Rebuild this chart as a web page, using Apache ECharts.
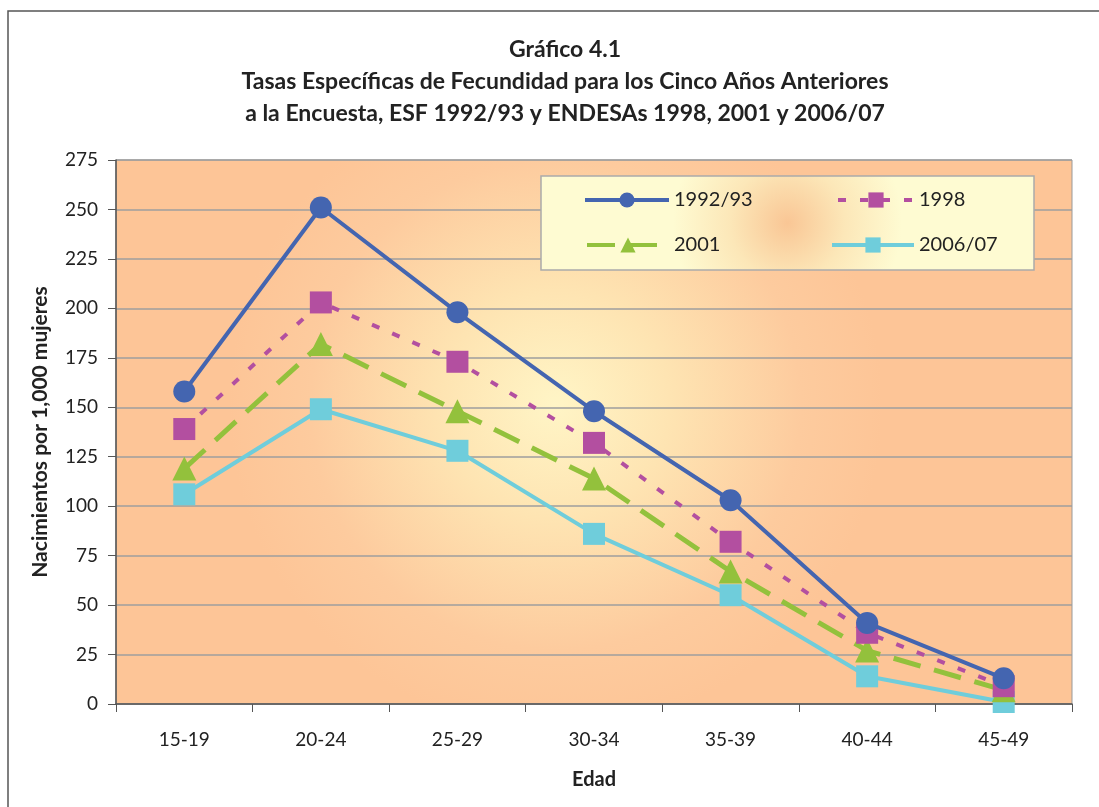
<!DOCTYPE html>
<html><head><meta charset="utf-8">
<script src="https://cdn.jsdelivr.net/npm/echarts@6/dist/echarts.min.js"></script>
<style>html,body{margin:0;padding:0;background:#fff}#c{width:1099px;height:807px}</style>
</head><body><div id="c"></div>
<script>
const categories = ['15-19','20-24','25-29','30-34','35-39','40-44','45-49'];
const s1992 = [158, 251, 198, 148, 103, 41, 13];
const s1998 = [139, 203, 173, 132, 82, 36, 9];
const s2001 = [119, 182, 148, 114, 67, 27, 7];
const s2006 = [106, 149, 128, 86, 55, 14, 1];
const yTicks = {min: 0, max: 275, interval: 25};

const F = 'Lato, "Open Sans", sans-serif';
const legTxt = {fontFamily: F, fontSize: 20, color: '#222'};
function leg(name, left, top, w) {
  return {data: [name], left: left, top: top, itemWidth: w, itemHeight: 19, z: 10, padding: 0,
    lineStyle: {width: 4}, textStyle: legTxt};
}
const chart = echarts.init(document.getElementById('c'));
chart.setOption({
  animation: false,
  backgroundColor: '#fff',
  title: {
    text: 'Gráfico 4.1\nTasas Específicas de Fecundidad para los Cinco Años Anteriores\na la Encuesta, ESF 1992/93 y ENDESAs 1998, 2001 y 2006/07',
    left: 560, top: 29, textAlign: 'center',
    textStyle: {fontFamily: F, fontWeight: 'bold', fontSize: 23, lineHeight: 32, color: '#222'}
  },
  graphic: [
    {type: 'rect', shape: {x: 8, y: 11, width: 1200, height: 900}, style: {fill: 'none', stroke: '#555', lineWidth: 1.5}, z: -10},
    {type: 'rect', shape: {x: 541, y: 176, width: 493, height: 94}, z: 5,
     style: {stroke: '#aaa', lineWidth: 1.5, fill: {type: 'radial', x: 0.5, y: 0.5, r: 1.2, colorStops: [
       {offset: 0, color: '#F9C695'}, {offset: 0.5, color: '#FCE7B8'}, {offset: 1, color: '#FEFBD2'}]}}}
  ],
  legend: [
    leg('1992/93', 583, 190, 84),
    leg('1998', 836, 190, 76),
    leg('2001', 585, 235, 82),
    leg('2006/07', 830, 235, 82)
  ],
  grid: {left: 116, right: 27, top: 160, bottom: 103, show: true, borderColor: '#999', borderWidth: 1,
    backgroundColor: {type: 'radial', x: 0.46, y: 0.45, r: 0.6, colorStops: [
      {offset: 0, color: '#FFF5C6'}, {offset: 0.35, color: '#FEE4B2'}, {offset: 0.75, color: '#FDCB9E'}, {offset: 1, color: '#FDC597'}]}},
  xAxis: {
    type: 'category', data: categories, boundaryGap: true,
    name: 'Edad', nameLocation: 'middle', nameGap: 66,
    nameTextStyle: {fontFamily: F, fontWeight: 'bold', fontSize: 20, color: '#222'},
    axisLine: {lineStyle: {color: '#555', width: 1.5}},
    axisTick: {show: true, length: 8, inside: false, lineStyle: {color: '#555'}},
    axisLabel: {fontFamily: F, fontSize: 19, color: '#222', margin: 26}
  },
  yAxis: {
    type: 'value', min: yTicks.min, max: yTicks.max, interval: yTicks.interval,
    name: 'Nacimientos por 1,000 mujeres', nameLocation: 'middle', nameGap: 65,
    nameTextStyle: {fontFamily: F, fontWeight: 'bold', fontSize: 21, color: '#222'},
    axisLine: {show: true, lineStyle: {color: '#555', width: 1.5}},
    axisTick: {show: true, length: 8, lineStyle: {color: '#555'}},
    axisLabel: {fontFamily: F, fontSize: 19, color: '#222', margin: 18},
    splitLine: {lineStyle: {color: '#9E9E9E', width: 1.5}}
  },
  series: [
    {name: '1992/93', type: 'line', data: s1992, symbol: 'circle', symbolSize: 22, z: 4,
     itemStyle: {color: '#4465B0'}, lineStyle: {width: 4, color: '#4465B0'}},
    {name: '1998', type: 'line', data: s1998, symbol: 'rect', symbolSize: 22, z: 3,
     itemStyle: {color: '#B34FA0'}, lineStyle: {width: 4, color: '#B34FA0', type: [8, 14]}},
    {name: '2001', type: 'line', data: s2001, symbol: 'triangle', symbolSize: 24, z: 2,
     itemStyle: {color: '#93C13C'}, lineStyle: {width: 5, color: '#93C13C', type: [28, 14]}},
    {name: '2006/07', type: 'line', data: s2006, symbol: 'rect', symbolSize: 22, z: 1,
     itemStyle: {color: '#6FCDDB'}, lineStyle: {width: 4, color: '#6FCDDB'}}
  ]
});
</script></body></html>
